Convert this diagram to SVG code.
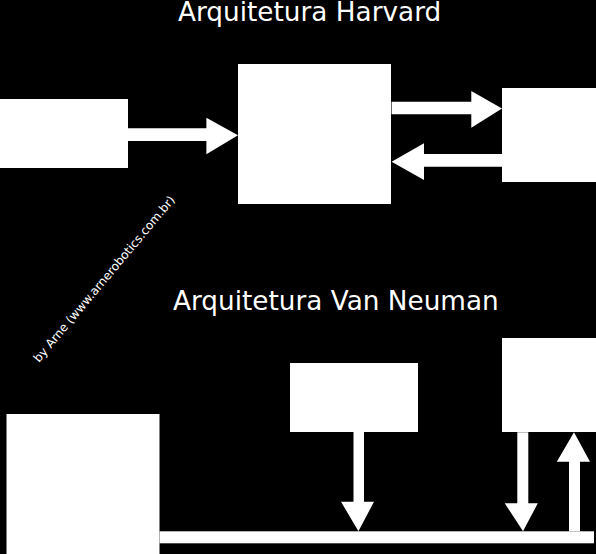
<svg xmlns="http://www.w3.org/2000/svg" width="596" height="554" viewBox="0 0 596 554">
<style>
.bg{fill:#000}
.box{fill:#fff}
.arr{fill:#fff}
.title{font-family:"DejaVu Sans",sans-serif;font-size:26.3px;fill:#fff}
.credit{font-family:"DejaVu Sans",sans-serif;font-size:12px;fill:#fff}
</style>
<rect class="bg" x="0" y="0" width="596" height="554"/>
<text class="title" x="178" y="21">Arquitetura Harvard</text>
<text class="title" x="173" y="310">Arquitetura Van Neuman</text>
<text class="credit" transform="translate(39,363) rotate(-50)">by Arne (www.arnerobotics.com.br)</text>
<g id="h-left"><rect class="box" x="0" y="99" width="128" height="69"/></g>
<g id="h-cpu"><rect class="box" x="238" y="64" width="153" height="140"/></g>
<g id="h-right"><rect class="box" x="502" y="88" width="94" height="94"/></g>
<g id="v-left"><rect class="box" x="6.5" y="414" width="153" height="140"/></g>
<g id="v-mid"><rect class="box" x="290" y="363" width="128" height="69"/></g>
<g id="v-right"><rect class="box" x="502" y="338" width="94" height="94"/></g>
<g id="connectors">
<polygon class="arr" points="128,128.3 206.4,128.3 206.4,117.7 238,135.3 206.4,154.3 206.4,141 128,141"/>
<polygon class="arr" points="391.6,101.7 471.3,101.7 471.3,91 502,108.5 471.3,127.7 471.3,114.3 391.6,114.3"/>
<polygon class="arr" points="502,154 424,154 424,143.3 391.6,161.7 424,180 424,166.7 502,166.7"/>
<rect class="arr" x="159.6" y="531.3" width="434.4" height="12"/>
<polygon class="arr" points="353.5,431.7 364,431.7 364,501.7 374,501.7 358.4,531.3 341,501.7 353.5,501.7"/>
<polygon class="arr" points="517.3,432.3 528.3,432.3 528.3,503.3 537.8,503.3 523,531.3 504.7,503.3 517.3,503.3"/>
<polygon class="arr" points="569,531.3 569,461.7 556.8,461.7 574,432.3 590,461.7 580,461.7 580,531.3"/>
</g>
</svg>
